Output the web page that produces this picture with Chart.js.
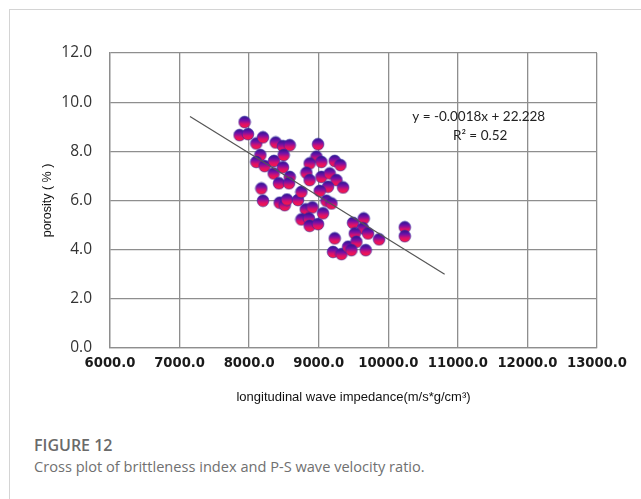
<!DOCTYPE html>
<html>
<head>
<meta charset="utf-8">
<script src="https://cdn.jsdelivr.net/npm/chart.js@4.4.1/dist/chart.umd.min.js"></script>
<style>
  html, body { margin: 0; padding: 0; background: #fff; width: 641px; height: 499px; overflow: hidden; }
  #card { position: absolute; left: 9px; top: 9px; width: 700px; height: 600px;
          border-top: 1px solid #d4d4d4; border-left: 1px solid #d4d4d4; }
  #wrap { position: absolute; left: 0; top: 0; width: 641px; height: 420px; }
  #fig { position: absolute; left: 34px; top: 434px; font-family: "Open Sans", sans-serif;
         font-size: 16px; font-weight: 600; color: #6a6a6a; }
  #cap { position: absolute; left: 34px; top: 456px; font-family: "Open Sans", sans-serif;
         font-size: 14.6px; color: #707070; }
</style>
</head>
<body>
<div id="card"></div>
<div id="wrap"><canvas id="chart-porosity"></canvas></div>
<div id="fig">FIGURE 12</div>
<div id="cap">Cross plot of brittleness index and P-S wave velocity ratio.</div>
<script>
// measured points: impedance (x) and porosity (y)
var impedance = [7863, 7983, 7935, 8103, 8199, 8381, 8486, 8583, 8990, 8161,
                 8103, 8223, 8357, 8496, 8486, 8352, 8429, 8583, 8573, 8175,
                 8199, 8439, 8511, 8544, 8702, 8751, 8813, 8909, 8751, 8860,
                 8870, 8990, 9062, 9111, 8967, 8870, 9039, 8823, 8870, 9039,
                 9158, 9230, 9312, 9255, 9350, 9134, 9014, 9230, 9206, 9327,
                 9422, 9183, 9493, 9647, 9637, 9518, 9709, 9542, 9868, 9470,
                 9676, 10237, 10237];
var porosity  = [8.66, 8.70, 9.19, 8.32, 8.57, 8.36, 8.21, 8.25, 8.29, 7.85,
                 7.57, 7.40, 7.61, 7.85, 7.35, 7.10, 6.70, 6.96, 6.70, 6.49,
                 5.99, 5.91, 5.81, 6.04, 6.02, 6.35, 5.64, 5.72, 5.23, 5.27,
                 4.97, 5.04, 5.48, 5.99, 7.78, 7.51, 7.57, 7.13, 6.83, 6.96,
                 7.10, 7.61, 7.44, 6.83, 6.53, 6.56, 6.39, 4.46, 3.91, 3.82,
                 4.12, 5.88, 5.09, 5.27, 4.87, 4.66, 4.66, 4.32, 4.42, 3.98,
                 3.98, 4.91, 4.55];

// trend line end points
var trendX = [7150, 10810];
var trendY = [9.42, 3.00];
var trendText = ["y = -0.0018x + 22.228", "R\u00b2 = 0.52"];

var xTicks = [6000, 7000, 8000, 9000, 10000, 11000, 12000, 13000];
var yTicks = [0, 2, 4, 6, 8, 10, 12];

var chart;

function makeBall(){
  var c = document.createElement("canvas");
  c.width = 14; c.height = 14;
  var g = c.getContext("2d");
  var grad = g.createLinearGradient(0, 1, 0, 13);
  grad.addColorStop(0, "#261690");
  grad.addColorStop(0.35, "#7210a8");
  grad.addColorStop(0.65, "#dc106c");
  grad.addColorStop(1, "#ff1a40");
  g.beginPath();
  g.arc(7, 7, 5.9, 0, Math.PI * 2);
  g.fillStyle = grad;
  g.fill();
  g.lineWidth = 0.8;
  g.strokeStyle = "rgba(50,40,160,0.75)";
  g.stroke();
  return c;
}

var eqnPlugin = {
  id: "eqn",
  afterDatasetsDraw: function(ch){
    var c = ch.ctx;
    var xs = ch.scales.x, ys = ch.scales.y;
    c.save();
    c.fillStyle = "#222";
    c.font = "13.5px Lato";
    c.textAlign = "center";
    c.textBaseline = "middle";
    c.fillText(trendText[0], xs.getPixelForValue(11300), ys.getPixelForValue(9.43));
    c.fillText(trendText[1], xs.getPixelForValue(11320), ys.getPixelForValue(8.62));
    c.restore();
  }
};

function initChart(){
  var pts = impedance.map(function(v, i){ return {x: v, y: porosity[i]}; });
  var line = trendX.map(function(v, i){ return {x: v, y: trendY[i]}; });
  var ctx = document.getElementById("chart-porosity").getContext("2d");
  chart = new Chart(ctx, {
    type: "scatter",
    data: {
      datasets: [{
        label: "trend",
        data: line,
        showLine: true,
        borderColor: "#555",
        borderWidth: 1.2,
        pointRadius: 0,
        order: 0
      }, {
        label: "porosity",
        data: pts,
        pointStyle: makeBall(),
        pointRadius: 6,
        order: 1
      }]
    },
    options: {
      responsive: false,
      animation: false,
      layout: { padding: { left: 0, right: 44, top: 53, bottom: 0 } },
      plugins: { legend: { display: false }, tooltip: { enabled: false } },
      scales: {
        x: {
          type: "linear", min: 6000, max: 13000,
          afterBuildTicks: function(s){ s.ticks = xTicks.map(function(v){ return {value: v}; }); },
          afterFit: function(s){ s.height = 72; },
          grid: { color: "#8e8e8e", lineWidth: 1.3, drawTicks: false },
          border: { color: "#8e8e8e", width: 1.3 },
          ticks: { padding: 8, color: "#1a1a1a", maxRotation: 0, autoSkip: false,
                   font: { family: "DejaVu Sans", size: 13.2, weight: "bold" },
                   callback: function(v){ return Number(v).toFixed(1); } },
          title: { display: true, text: "longitudinal wave impedance(m/s*g/cm\u00b3)",
                   color: "#111", padding: { top: 0, bottom: 15 },
                   font: { family: "Liberation Sans", size: 13 } }
        },
        y: {
          type: "linear", min: 0, max: 12,
          afterBuildTicks: function(s){ s.ticks = yTicks.map(function(v){ return {value: v}; }); },
          afterFit: function(s){ s.width = 110; },
          grid: { color: "#8e8e8e", lineWidth: 1.3, drawTicks: false },
          border: { color: "#8e8e8e", width: 1.3 },
          ticks: { padding: 18, color: "#333",
                   font: { family: "Open Sans", size: 15.5 },
                   callback: function(v){ return Number(v).toFixed(1); } },
          title: { display: true, text: "porosity ( % )", color: "#111",
                   padding: { top: 40, bottom: 0 },
                   font: { family: "Liberation Sans", size: 12.5 } }
        }
      }
    },
    plugins: [eqnPlugin]
  });
}

window.addEventListener("load", function(){
  var cv = document.getElementById("chart-porosity");
  cv.width = 641; cv.height = 420;
  initChart();
});
</script>
</body>
</html>
